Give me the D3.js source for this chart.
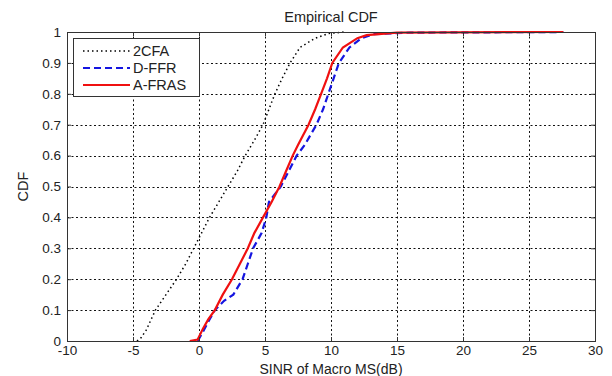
<!DOCTYPE html>
<html>
<head>
<meta charset="utf-8">
<script src="https://cdn.jsdelivr.net/npm/d3@7"></script>
<style>
  body { margin: 0; background: #fff; }
  text { font-family: "Liberation Sans", Arial, sans-serif; fill: #222; }
</style>
</head>
<body>
<div id="chart"></div>
<script>
// values (SINR dB, CDF)
const cfa2 = [[-4.7,0],[-4.4,0.01],[-4,0.035],[-3.3,0.1],[-2.5,0.15],[-1.7,0.2],[-1,0.25],[-0.4,0.3],[0.2,0.35],[0.8,0.4],[1.5,0.45],[2.2,0.5],[2.9,0.55],[3.5,0.6],[4.2,0.65],[4.85,0.7],[5.3,0.75],[5.75,0.8],[6.3,0.85],[6.9,0.9],[7.65,0.95],[8.8,0.98],[9.8,0.995],[11,1]]
const dffr = [[-0.1,0],[0.3,0.03],[0.8,0.07],[1.2,0.1],[1.9,0.13],[2.6,0.15],[3.3,0.2],[3.7,0.25],[4.1,0.3],[4.75,0.35],[5.1,0.4],[5.3,0.45],[6.2,0.5],[6.8,0.55],[7.4,0.6],[8,0.634],[8.9,0.7],[9.4,0.75],[9.8,0.8],[10.2,0.85],[10.6,0.9],[11.4,0.95],[12.3,0.98],[13.2,0.993],[16,0.998],[27.6,1]]
const afras = [[-0.7,0],[-0.1,0.005],[0.3,0.04],[0.7,0.07],[1.2,0.1],[1.8,0.15],[2.5,0.2],[3.1,0.25],[3.7,0.3],[4.2,0.35],[4.85,0.4],[5.5,0.45],[6.1,0.5],[6.6,0.55],[7.1,0.6],[7.5,0.634],[8.3,0.7],[8.8,0.75],[9.25,0.8],[9.7,0.85],[10.1,0.9],[10.9,0.95],[12,0.98],[12.7,0.99],[15,0.998],[27.6,1]]
const xTicks = [-10,-5,0,5,10,15,20,25,30]
const yTicks = [0,0.1,0.2,0.3,0.4,0.5,0.6,0.7,0.8,0.9,1]
const series = [
  {name: "2CFA", data: cfa2, color: "#000", width: 1.5, dash: "1.5,3"},
  {name: "D-FFR", data: dffr, color: "#1515e0", width: 2.2, dash: "7,4"},
  {name: "A-FRAS", data: afras, color: "#f01010", width: 2.2, dash: null}
]

const width = 612, height = 376
const margin = {top: 32, right: 17, bottom: 35, left: 67}
const iw = width - margin.left - margin.right
const ih = height - margin.top - margin.bottom

const svg = d3.select("#chart").append("svg")
  .attr("width", width).attr("height", height)

const x = d3.scaleLinear().domain([-10, 30]).range([margin.left, margin.left + iw])
const y = d3.scaleLinear().domain([0, 1]).range([margin.top + ih, margin.top])
const px = v => Math.round(v) + 0.5

// grid, dotted like matlab
const grid = svg.append("g")
grid.selectAll("line.gx").data(xTicks.slice(1, -1)).join("line").attr("class", "gx")
  .attr("x1", d => px(x(d))).attr("x2", d => px(x(d)))
  .attr("y1", margin.top).attr("y2", margin.top + ih)
grid.selectAll("line.gy").data(yTicks.slice(1, -1)).join("line").attr("class", "gy")
  .attr("y1", d => px(y(d))).attr("y2", d => px(y(d)))
  .attr("x1", margin.left).attr("x2", margin.left + iw)
grid.selectAll("line")
  .attr("stroke", "#111").attr("stroke-width", 1).attr("stroke-dasharray", "2,2.5")

// curves
const line = d3.line().x(d => x(d[0])).y(d => y(d[1]))
svg.append("g").selectAll("path").data(series).join("path")
  .attr("fill", "none")
  .attr("stroke", d => d.color)
  .attr("stroke-width", d => d.width)
  .attr("stroke-dasharray", d => d.dash)
  .attr("d", d => line(d.data))

// axes (ticks inside, mirrored like matlab)
svg.append("rect").attr("x", margin.left + 0.5).attr("y", margin.top + 0.5)
  .attr("width", iw).attr("height", ih).attr("fill", "none").attr("stroke", "#333")
svg.append("g").attr("transform", `translate(0,${margin.top + ih})`)
  .call(d3.axisBottom(x).tickValues(xTicks).tickSize(-4).tickPadding(4).tickFormat(d => String(d)))
  .call(g => { g.select(".domain").remove(); g.selectAll("text").attr("font-size", 13.5).attr("fill", "#222") })
svg.append("g").attr("transform", `translate(0,${margin.top})`)
  .call(d3.axisTop(x).tickValues(xTicks).tickSize(-4).tickFormat(""))
  .call(g => g.select(".domain").remove())
svg.append("g").attr("transform", `translate(${margin.left},0)`)
  .call(d3.axisLeft(y).tickValues(yTicks).tickSize(-4).tickPadding(6).tickFormat(d => String(+d.toFixed(1))))
  .call(g => { g.select(".domain").remove(); g.selectAll("text").attr("font-size", 13.5).attr("fill", "#222") })
svg.append("g").attr("transform", `translate(${margin.left + iw},0)`)
  .call(d3.axisRight(y).tickValues(yTicks).tickSize(-4).tickFormat(""))
  .call(g => g.select(".domain").remove())
svg.selectAll(".tick line").attr("stroke", "#333")

// labels
svg.append("text").attr("x", margin.left + iw / 2).attr("y", 22)
  .attr("text-anchor", "middle").attr("font-size", 14.5).text("Empirical CDF")
svg.append("text").attr("x", margin.left + iw / 2).attr("y", 373.5)
  .attr("text-anchor", "middle").attr("font-size", 14).text("SINR of Macro MS(dB)")
svg.append("text").attr("transform", `translate(28,${margin.top + ih / 2}) rotate(-90)`)
  .attr("text-anchor", "middle").attr("font-size", 14.5).text("CDF")

// legend
const lg = svg.append("g").attr("transform", "translate(73,38)")
lg.append("rect").attr("x", 0.5).attr("y", 0.5).attr("width", 126).attr("height", 58)
  .attr("fill", "#fff").attr("stroke", "#333")
const item = lg.selectAll(".item").data(series).join("g")
  .attr("transform", (d, i) => `translate(0,${13 + i * 17})`)
item.append("line").attr("x1", 10).attr("x2", 57).attr("y1", 0).attr("y2", 0)
  .attr("stroke", d => d.color).attr("stroke-width", d => d.width)
  .attr("stroke-dasharray", d => d.dash)
item.append("text").attr("x", 60).attr("y", 5).attr("font-size", 14.5).text(d => d.name)
</script>
</body>
</html>
